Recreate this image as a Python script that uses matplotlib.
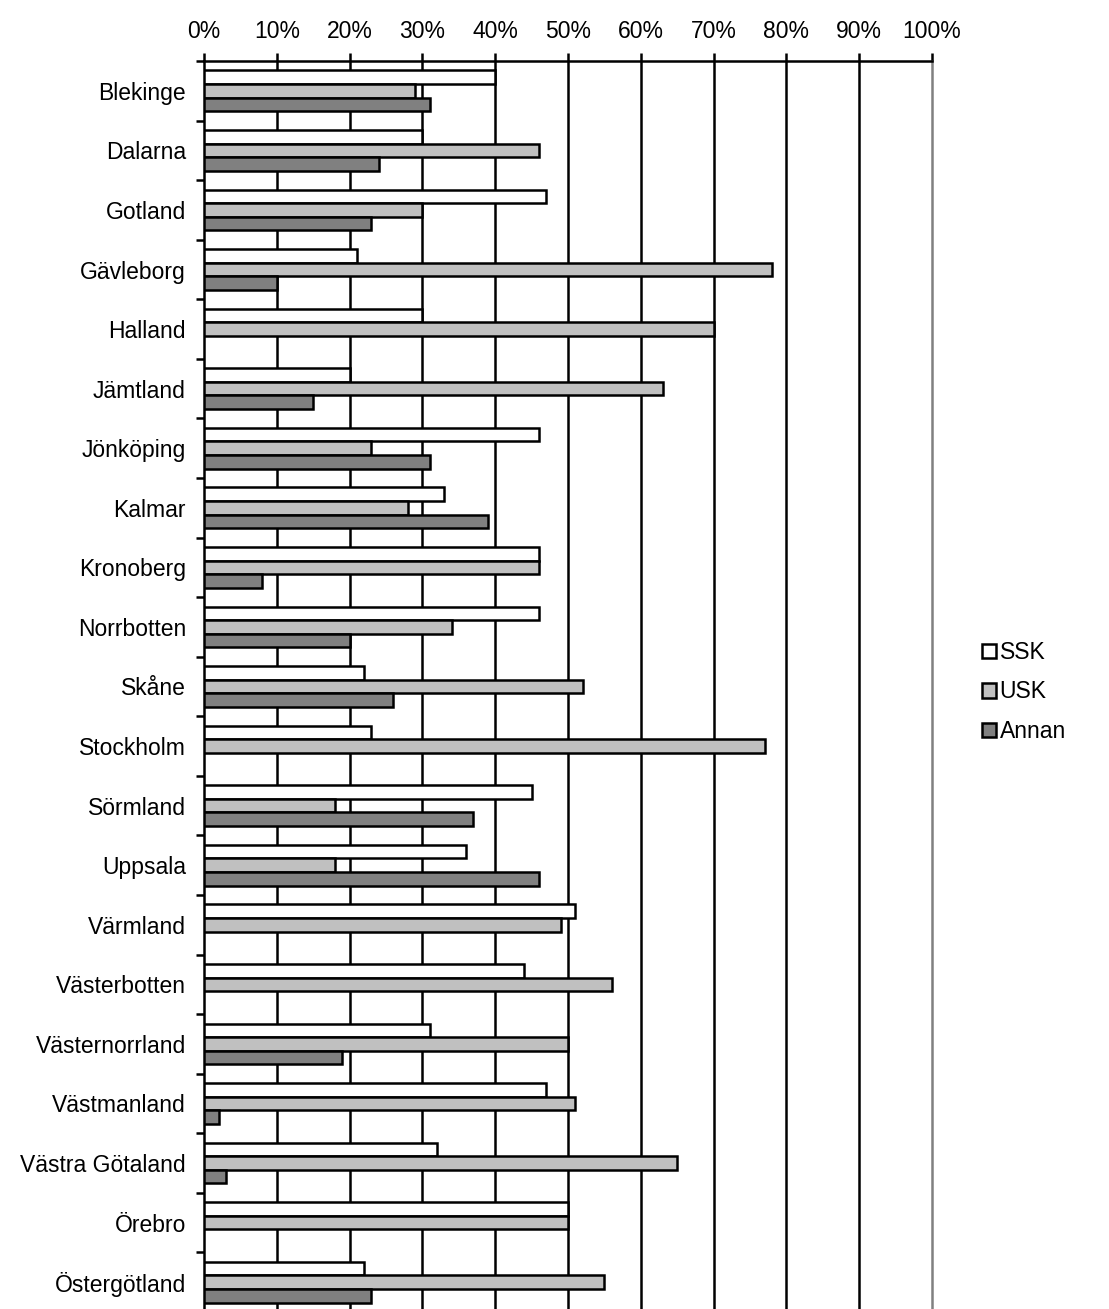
import matplotlib
matplotlib.use("Agg")
import matplotlib.pyplot as plt
import numpy as np
from matplotlib.patches import Patch

plt.rcParams['font.family'] = ['Liberation Sans', 'DejaVu Sans']

regions = ["Blekinge", "Dalarna", "Gotland", "Gävleborg", "Halland", "Jämtland",
           "Jönköping", "Kalmar", "Kronoberg", "Norrbotten", "Skåne", "Stockholm",
           "Sörmland", "Uppsala", "Värmland", "Västerbotten", "Västernorrland",
           "Västmanland", "Västra Götaland", "Örebro", "Östergötland"]

ssk = [40, 30, 47, 21, 30, 20, 46, 33, 46, 46, 22, 23, 45, 36, 51, 44, 31, 47, 32, 50, 22]
usk = [29, 46, 30, 78, 70, 63, 23, 28, 46, 34, 52, 77, 18, 18, 49, 56, 50, 51, 65, 50, 55]
annan = [31, 24, 23, 10, 0, 15, 31, 39, 8, 20, 26, 0, 37, 46, 0, 0, 19, 2, 3, 0, 23]

series_names = ["SSK", "USK", "Annan"]
series_colors = ["#FFFFFF", "#C0C0C0", "#808080"]
x_ticks = list(range(0, 101, 10))
x_labels = [f"{t}%" for t in x_ticks]

W, H = 1109, 1309
fig = plt.figure(figsize=(W / 100, H / 100), dpi=100)
ax = fig.add_axes([204 / W, -3 / H, (932 - 204) / W, (1312 - 61) / H])

n = len(regions)
y = np.arange(n)
bh = 0.228
lw = 1.8
fs = 16.5

for i, (vals, col) in enumerate(zip([ssk, usk, annan], series_colors)):
    v = np.array(vals, dtype=float)
    pos = y + (i - 1) * bh
    mask = v > 0
    ax.barh(pos[mask], v[mask], height=bh, color=col, edgecolor="black",
            linewidth=lw, zorder=3)

ax.set_xlim(0, 100)
ax.set_ylim(n - 0.5, -0.5)

# vertical gridlines
for t in x_ticks[1:-1]:
    ax.axvline(t, color="black", linewidth=lw, zorder=1)

ax.xaxis.tick_top()
ax.set_xticks(x_ticks)
ax.set_xticklabels(x_labels, fontsize=fs)
ax.tick_params(axis="x", direction="out", length=6, width=lw, pad=7, colors="black")

ax.set_yticks(y)
ax.set_yticklabels(regions, fontsize=fs)
ax.set_yticks(np.arange(-0.5, n + 0.5, 1), minor=True)
ax.tick_params(axis="y", which="major", length=0, pad=13)
ax.tick_params(axis="y", which="minor", direction="out", length=6, width=lw)

for side in ["top", "left"]:
    ax.spines[side].set_linewidth(lw)
    ax.spines[side].set_color("black")
ax.spines["right"].set_color("#808080")
ax.spines["right"].set_linewidth(lw)
ax.spines["bottom"].set_color("#808080")
ax.spines["bottom"].set_linewidth(lw)

handles = [Patch(facecolor=c, edgecolor="black", linewidth=lw) for c in series_colors]
fig.legend(handles, series_names, loc="center left",
           bbox_to_anchor=(982 / W, 1 - 692 / H), frameon=False, fontsize=fs,
           handlelength=0.62, handleheight=0.62, handletextpad=0.15,
           labelspacing=0.72, borderpad=0, borderaxespad=0)

fig.savefig("out.png", dpi=100)
